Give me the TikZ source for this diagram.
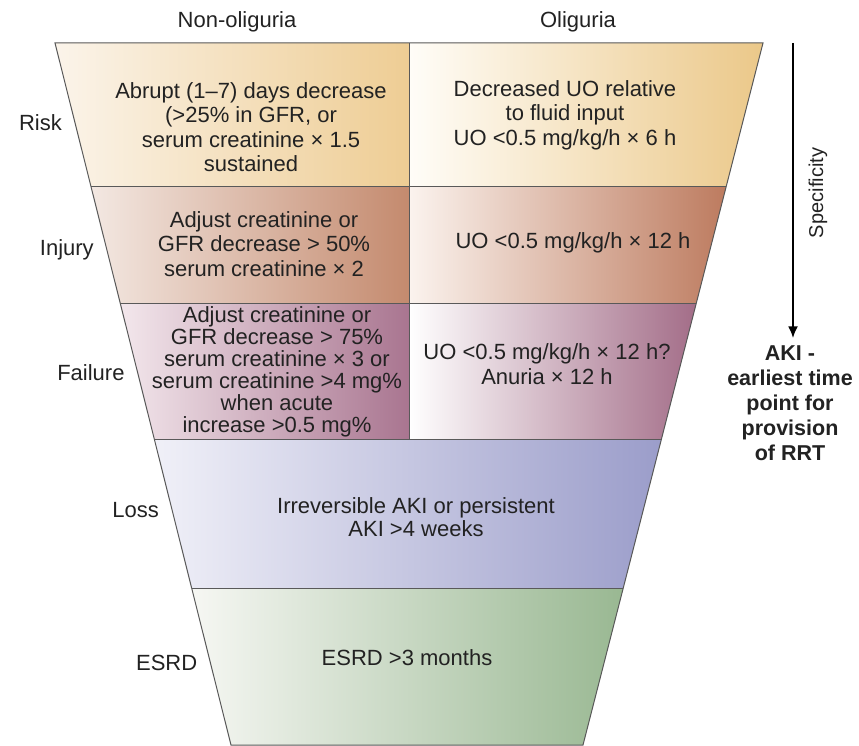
\documentclass[tikz,border=0pt]{standalone}
\usepackage{fontspec}
\setmainfont{Liberation Sans}
\usetikzlibrary{positioning,calc,arrows.meta}

\definecolor{riskLa}{HTML}{FBF4EA}
\definecolor{riskLb}{HTML}{EECD94}
\definecolor{riskRa}{HTML}{FFFDF8}
\definecolor{riskRb}{HTML}{EBC889}
\definecolor{injLa}{HTML}{F3E8E2}
\definecolor{injLb}{HTML}{C48A6E}
\definecolor{injRa}{HTML}{FBF3EE}
\definecolor{injRb}{HTML}{BD7B5F}
\definecolor{failLa}{HTML}{F3E7EC}
\definecolor{failLb}{HTML}{A97590}
\definecolor{failRa}{HTML}{FFFFFF}
\definecolor{failRb}{HTML}{A36D88}
\definecolor{lossa}{HTML}{F0F0F8}
\definecolor{lossb}{HTML}{9B9DCA}
\definecolor{esrda}{HTML}{F6F7F3}
\definecolor{esrdb}{HTML}{99B892}
\definecolor{ink}{HTML}{222222}

\begin{document}
\begin{tikzpicture}[x=1pt, y=1pt, font=\fontsize{22}{24.5}\selectfont]
    \tikzstyle{cell} = [align=center, text=ink, inner sep=1pt]
    \tikzstyle{stage} = [text=ink, inner sep=1pt]
    \tikzstyle{edge} = [draw=black!65, line width=1pt]

    \useasboundingbox (0,0) rectangle (859,745);

    % funnel corners
    \coordinate (tl) at (55,702);
    \coordinate (tr) at (763,702);
    \coordinate (bl) at (231,0);
    \coordinate (br) at (583,0);
    % row boundaries on the slanted sides
    \coordinate (l1) at ($(tl)!0.2051!(bl)$);
    \coordinate (r1) at ($(tr)!0.2051!(br)$);
    \coordinate (l2) at ($(tl)!0.3704!(bl)$);
    \coordinate (r2) at ($(tr)!0.3704!(br)$);
    \coordinate (l3) at ($(tl)!0.5655!(bl)$);
    \coordinate (r3) at ($(tr)!0.5655!(br)$);
    \coordinate (l4) at ($(tl)!0.7764!(bl)$);
    \coordinate (r4) at ($(tr)!0.7764!(br)$);
    % column divider
    \coordinate (m0) at (409,702);
    \coordinate (m1) at (m0 |- l1);
    \coordinate (m2) at (m0 |- l2);
    \coordinate (m3) at (m0 |- l3);

    \shade[left color=riskLa, right color=riskLb] (tl) -- (m0) -- (m1) -- (l1) -- cycle;
    \shade[left color=riskRa, right color=riskRb] (m0) -- (tr) -- (r1) -- (m1) -- cycle;
    \shade[left color=injLa, right color=injLb] (l1) -- (m1) -- (m2) -- (l2) -- cycle;
    \shade[left color=injRa, right color=injRb] (m1) -- (r1) -- (r2) -- (m2) -- cycle;
    \shade[left color=failLa, right color=failLb] (l2) -- (m2) -- (m3) -- (l3) -- cycle;
    \shade[left color=failRa, right color=failRb] (m2) -- (r2) -- (r3) -- (m3) -- cycle;
    \shade[left color=lossa, right color=lossb] (l3) -- (r3) -- (r4) -- (l4) -- cycle;
    \shade[left color=esrda, right color=esrdb] (l4) -- (r4) -- (br) -- (bl) -- cycle;

    \draw[edge] (tl) -- (tr) -- (br) -- (bl) -- cycle;
    \draw[edge] (l1) -- (r1);
    \draw[edge] (l2) -- (r2);
    \draw[edge] (l3) -- (r3);
    \draw[edge] (l4) -- (r4);
    \draw[edge] (m0) -- (m3);

    % column heads
    \node[stage] (nonolig) at (237,723) {Non-oliguria};
    \node[stage] (olig) at (578,723) {Oliguria};

    % stage names
    \coordinate (e1) at ($(tl)!0.114!(bl)$);
    \coordinate (e2) at ($(tl)!0.295!(bl)$);
    \coordinate (e3) at ($(tl)!0.470!(bl)$);
    \coordinate (e4) at ($(tl)!0.665!(bl)$);
    \coordinate (e5) at ($(tl)!0.883!(bl)$);
    \node[stage] (risk) [left=12pt of e1] {Risk};
    \node[stage] (injury) [left=12pt of e2] {Injury};
    \node[stage] (failure) [left=12pt of e3] {Failure};
    \node[stage] (loss) [left=12pt of e4] {Loss};
    \node[stage] (esrd) [left=12pt of e5] {ESRD};

    % criteria
    \node[cell] (riskgfr) at (251,618) {Abrupt (1--7) days decrease\\(>25\% in GFR, or\\serum creatinine × 1.5\\sustained};
    \node[cell] (riskuo) at (565,630) {Decreased UO relative\\to fluid input\\UO <0.5 mg/kg/h × 6 h};
    \node[cell] (injgfr) at (264,501) {Adjust creatinine or\\GFR decrease > 50\%\\serum creatinine × 2};
    \node[cell] (injuo) at (573,502) {UO <0.5 mg/kg/h × 12 h};
    \node[cell, font=\fontsize{22}{22}\selectfont] (failgfr) at (277,373) {Adjust creatinine or\\GFR decrease > 75\%\\serum creatinine × 3 or\\serum creatinine >4 mg\%\\when acute\\increase >0.5 mg\%};
    \node[cell] (failuo) at (547,381) {UO <0.5 mg/kg/h × 12 h?\\Anuria × 12 h};
    \node[cell, font=\fontsize{22}{23}\selectfont] (losstext) at (416,228) {Irreversible AKI or persistent\\AKI >4 weeks};
    \node[cell] (esrdtext) at (407,87) {ESRD >3 months};

    % specificity arrow
    \coordinate (spec) at (793,702);
    \node[stage, rotate=90, font=\fontsize{20}{24}\selectfont] (specif) at (818,552) {Specificity};
    \node[cell, font=\bfseries\fontsize{21.5}{25}\selectfont] (aki) at (790,342) {AKI -\\earliest time\\point for\\provision\\of RRT};
    \draw[line width=2.2pt, -{Latex[length=12pt,width=10pt]}, shorten >=6pt] (spec) -- (spec |- aki.north);
\end{tikzpicture}
\end{document}
